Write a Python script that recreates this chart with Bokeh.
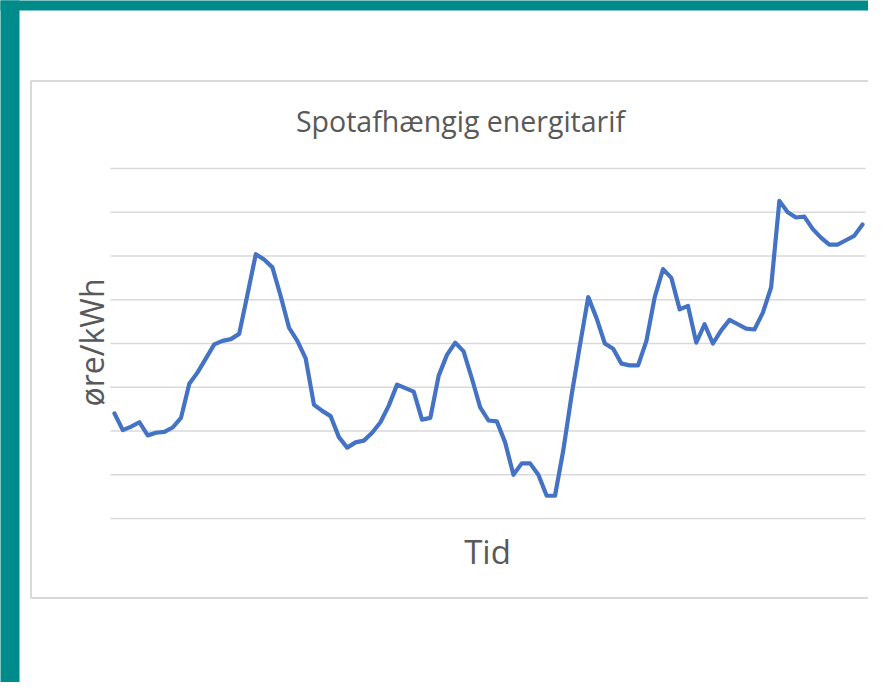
import math
from bokeh.plotting import figure
from bokeh.models import Range1d
from bokeh.core.properties import value
from bokeh.embed import file_html
from bokeh.resources import INLINE

# ---- data ----
tid = list(range(91))
pris = [120, 101, 105, 110, 95, 98, 99, 104, 115, 154,
        167, 183, 199, 203, 205, 211, 256, 302, 296, 287,
        254, 218, 203, 183, 130, 123, 117, 93, 81, 87,
        89, 98, 110, 129, 153, 149, 145, 113, 115, 163,
        187, 201, 191, 160, 127, 112, 111, 87, 50, 63,
        63, 50, 26, 26, 78, 141, 198, 253, 229, 200,
        194, 177, 175, 175, 203, 253, 285, 275, 239, 243,
        201, 222, 200, 215, 227, 222, 217, 216, 235, 264,
        363, 350, 344, 345, 331, 321, 313, 313, 318, 323,
        336]
grid_vals = [0, 50, 100, 150, 200, 250, 300, 350, 400]
titel = "Spotafhængig energitarif"
x_label = "Tid"
y_label = "øre/kWh"

# ---- layout (picture pixels -> data) ----
W, H = 868, 682
PAGE_L, PAGE_T = 0, 0
X_FIRST_PX, X_LAST_PX = 114, 862
Y0_PX, YTOP_PX = 518, 168
px_per_i = (X_LAST_PX - X_FIRST_PX) / (tid[-1] - tid[0])
px_per_v = (Y0_PX - YTOP_PX) / (grid_vals[-1] - grid_vals[0])
x_start = tid[0] - (X_FIRST_PX - PAGE_L) / px_per_i
x_end = x_start + W / px_per_i
y_end = (Y0_PX - PAGE_T) / px_per_v
y_start = (Y0_PX - (PAGE_T + H)) / px_per_v


def dx(px):
    return x_start + (px - PAGE_L) / px_per_i


def dy(py):
    return (Y0_PX - py) / px_per_v


p = figure(width=W, height=H, output_backend="svg", toolbar_location=None,
           x_range=Range1d(x_start, x_end), y_range=Range1d(y_start, y_end),
           x_axis_location=None, y_axis_location=None, min_border=0,
           background_fill_color="white", border_fill_color="white")
p.outline_line_color = None
p.grid.visible = False

TEAL = "#008B8B"
GRAY = "#D9D9D9"
TXT = "#595959"

# teal frame of the slide
p.quad(left=[dx(-20)], right=[dx(19)], top=[dy(-20)], bottom=[dy(720)],
       fill_color=TEAL, line_color=None)
p.quad(left=[dx(-20)], right=[dx(920)], top=[dy(-20)], bottom=[dy(10)],
       fill_color=TEAL, line_color=None)

# chart area box
p.quad(left=[dx(30.5)], right=[dx(930)], top=[dy(80.5)], bottom=[dy(597.5)],
       fill_color="white", line_color=GRAY, line_width=2)

# gridlines
p.segment(x0=[dx(110)] * len(grid_vals), x1=[dx(865)] * len(grid_vals),
          y0=grid_vals, y1=grid_vals, line_color=GRAY, line_width=1.5)

# series
p.line(tid, pris, line_color="#4472C4", line_width=4.2,
       line_join="round", line_cap="round")

# texts
p.text(x=[dx(460)], y=[dy(120)], text=[titel], text_font=value("Open Sans"),
       text_font_size=value("28.5px"), text_color=TXT,
       text_align="center", text_baseline="alphabetic")
p.text(x=[dx(487)], y=[dy(551)], text=[x_label], text_font=value("Open Sans"),
       text_font_size=value("33px"), text_color=TXT,
       text_align="center", text_baseline="alphabetic")
p.text(x=[dx(91)], y=[dy(342)], text=[y_label], text_font=value("Open Sans"),
       text_font_size=value("32px"), text_color=TXT, angle=math.pi / 2,
       text_align="center", text_baseline="alphabetic")

open("out.html", "w").write(file_html(p, INLINE))
